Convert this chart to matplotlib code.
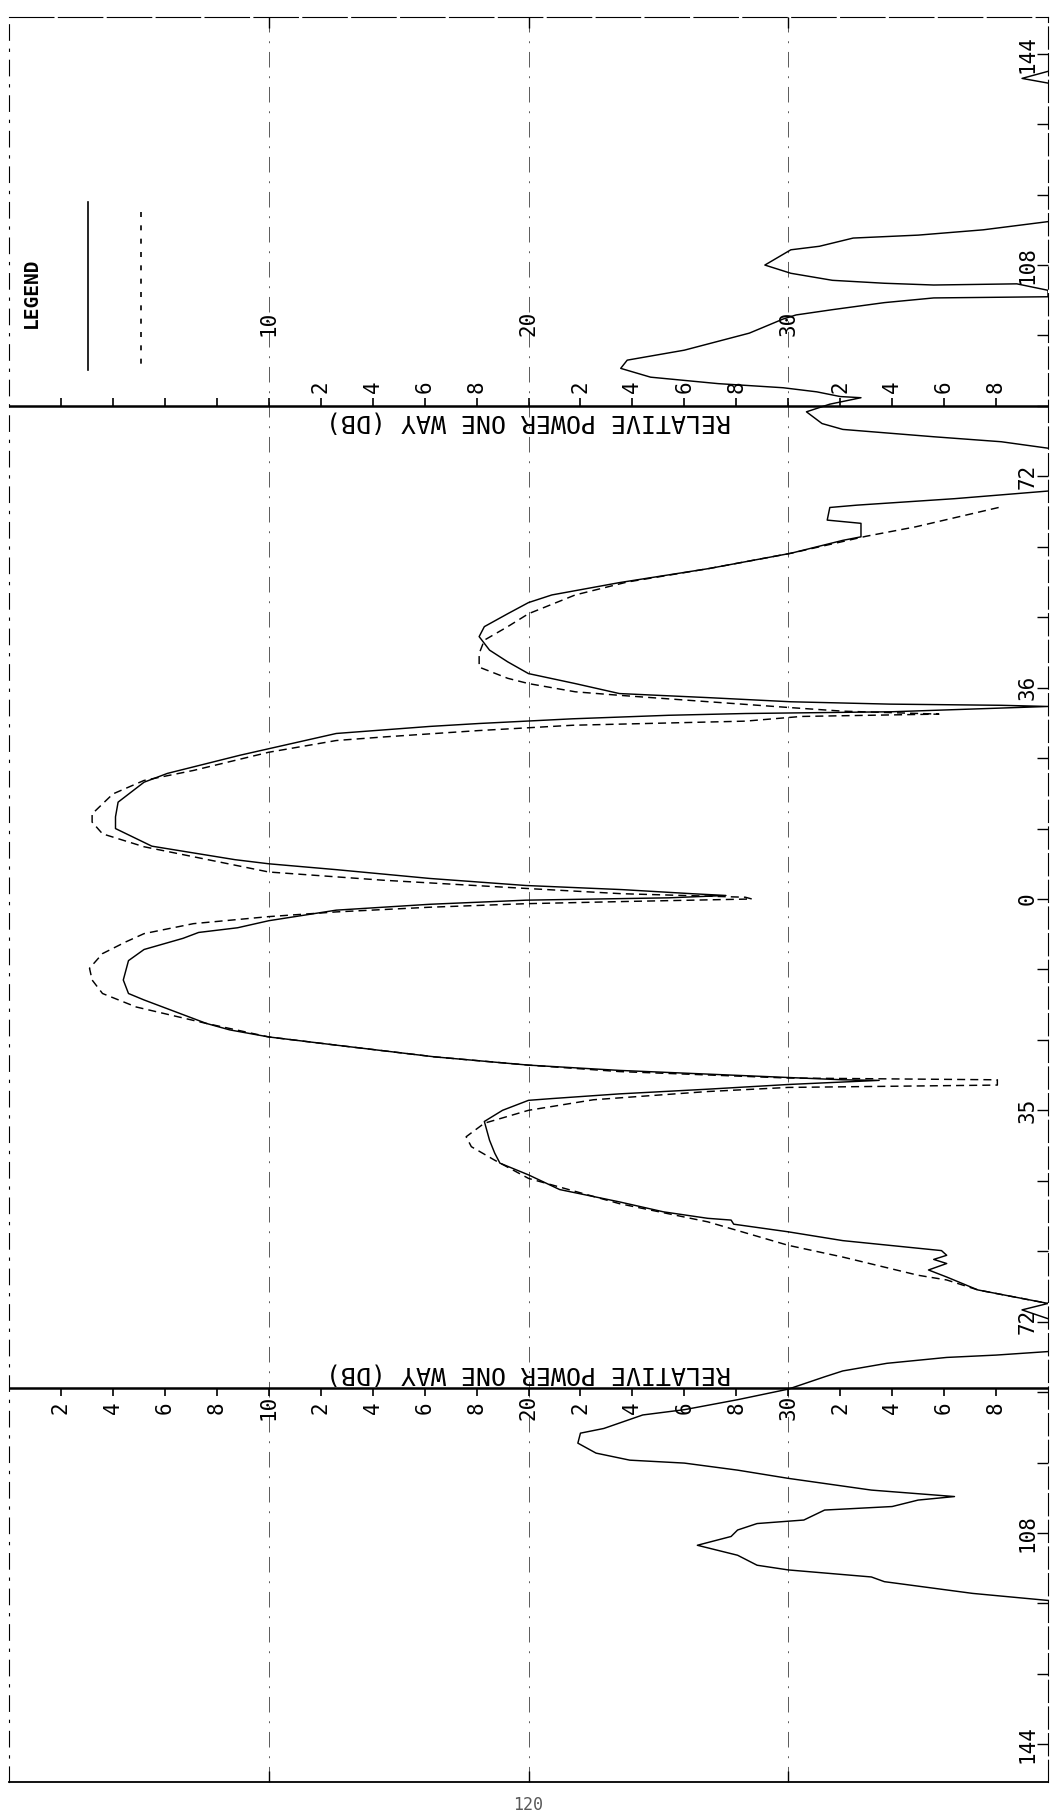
import numpy as np
import matplotlib
matplotlib.use("Agg")
import matplotlib.pyplot as plt

plt.rcParams['font.family'] = ['DejaVu Sans Mono', 'DejaVu Sans']

nan = np.nan

# solid trace: angle (deg) and relative power one way (dB)
solid_deg = [141.0, 139.8, 139.0, nan,
             115.4, 114.0, 113.1, 112.6, 111.2, 110.6, 108.0, 106.6, 105.4, 104.9, 104.6, 104.8, 103.7,
             102.6, 102.4, 101.6, 100.4, 99.5, 98.8, 96.4, 93.5, 91.8, 90.4, 88.9, 87.8, 87.1, 86.4,
             85.6, 85.4, 84.3, 83.0, 81.0, 80.0, 78.75, 77.9, 76.8, nan,
             69.5, 68.2, 67.1, 66.7, 64.55, 64.0, 61.7, 61.1, 58.9, 56.3, 53.9, 51.8, 50.5, 48.6, 46.4,
             44.7, 42.4, 40.4, 38.4, 36.7, 35.0, 34.3, 33.6, 33.2, 33.0, 32.8, 31.9,
             31.6, 31.3, 30.7, 30.3, 29.9, 29.4, 28.2, 25.6, 24.5, 22.5, 21.4, 19.9, 16.5, 14.0, 12.0,
             9.0, 6.7, 6.0, 5.0, 3.5, 2.3, 1.6, 0.9, 0.6, 0.2, -0.2, -0.9, -1.9, -3.7, -4.9, -5.7,
             -6.7, -8.6, -10.5, -13.8, -16.1, -17.2, -21.2, -22.3, -23.5, -24.9, -26.9, -28.3, -29.2,
             -30.4, -30.8, -30.9, -31.6, -32.4, -33.2, -34.0, -34.3, -36.0, -37.9, -41.1, -43.3, -45.0,
             -47.0, -49.5, -51.6, -53.3, -54.4, -54.7, -55.4, -56.7, -58.2, -59.9, -60.7, -61.4, -62.1,
             -63.2, -64.4, -66.6, -67.8, -68.9, -70.0, -71.5, nan,
             -77.1, -77.7, -78.1, -79.1, -80.4, -81.4, -83.5, -85.3, -87.0, -87.9, -90.2, -91.0, -92.7,
             -94.4, -95.6, -96.1, -97.3, -98.7, -100.7, -101.8, -102.4, -103.5, -104.1, -105.8, -106.4,
             -107.5, -108.6, -110.1, -111.8, -113.5, -114.3, -115.5, -116.3, -118.3, -119.5]
solid_db = [40.0, 39.0, 40.0, nan,
            40.0, 37.5, 35.0, 32.5, 31.2, 30.1, 29.1, 30.1, 31.7, 33.7, 35.6, 38.8, 40.0,
            40.0, 35.6, 33.7, 31.7, 30.3, 29.8, 28.5, 26.0, 23.8, 23.55, 24.7, 27.3, 29.8, 31.1,
            32.0, 32.8, 31.6, 30.7, 31.3, 32.1, 35.6, 38.2, 40.0, nan,
            40.0, 36.4, 32.65, 31.6, 31.5, 32.8, 32.8, 32.1, 30.1, 26.95, 23.5, 20.9, 20.0, 19.2, 18.3,
            18.1, 18.5, 19.2, 20.0, 21.8, 23.5, 26.95, 30.1, 33.9, 38.2, 40.0, 34.0,
            28.35, 25.4, 21.7, 19.9, 18.1, 16.2, 12.6, 10.0, 8.9, 7.1, 6.1, 5.2, 4.2, 4.1, 4.1,
            5.5, 8.7, 10.0, 12.6, 16.2, 19.9, 23.6, 26.3, 27.6, 25.4, 19.9, 16.2, 12.6, 10.0, 8.8, 7.3,
            6.7, 5.2, 4.6, 4.4, 4.6, 5.2, 7.6, 8.5, 10.0, 12.6, 16.4, 20.0, 23.5,
            30.0, 32.1, 33.5, 30.0, 26.9, 23.5, 20.9, 20.0, 19.0, 18.3, 18.5, 18.7, 18.9,
            20.0, 21.2, 23.5, 25.2, 26.9, 27.8, 27.9, 30.0, 32.1, 35.9, 36.1, 35.6, 36.1,
            35.4, 36.1, 37.3, 38.7, 40.0, 39.0, 40.0, nan,
            40.0, 38.0, 36.1, 33.8, 32.1, 31.4, 30.0, 28.05, 26.0, 24.4, 22.9, 22.0, 21.9,
            22.6, 23.9, 26.0, 28.05, 30.0, 33.2, 36.4, 35.0, 34.0, 31.4, 30.6, 28.8,
            28.05, 27.8, 26.5, 28.05, 28.8, 30.0, 33.2, 33.7, 37.1, 40.0]

# dashed trace
dash_deg = [66.7, 63.4, 61.8, 58.9, 56.3, 54.0, 51.8, 48.6, 46.4, 44.1, 41.8, 39.5, 37.6, 36.7, 35.3,
            34.7, 33.6, 32.6, 32.0, 31.5, 31.1, 30.3, 29.6, 28.7, 27.6, 27.0, 25.0, 21.9, 20.2, 17.9,
            14.5, 13.1, 11.1, 8.9, 7.2, 4.6, 3.2, 1.8, 0.9, 0.3, 0.0, -0.4, -0.8, -1.4, -2.2, -3.0,
            -4.2, -5.9, -7.3, -9.3, -11.8, -13.8, -16.1, -18.4, -21.2, -23.5, -24.9, -26.9, -28.3,
            -29.4, -30.5, -30.8, -31.7, -32.1, -32.8, -34.2, -36.0, -38.2, -40.5, -42.2, -44.5, -47.6,
            -51.9, -55.0, -59.0, -61.0, -64.1, -64.9, -66.6, -67.8, -68.9]
dash_db = [38.1, 34.9, 33.0, 30.1, 26.95, 23.8, 21.8, 20.0, 19.2, 18.3, 18.1, 18.1, 19.2, 20.0, 21.8,
           23.5, 26.95, 30.1, 32.1, 35.8, 30.5, 28.35, 21.7, 18.1, 14.4, 12.6, 10.0, 7.1, 5.2, 4.0,
           3.2, 3.2, 3.6, 5.2, 7.1, 10.0, 14.4, 19.9, 23.6, 28.35, 28.6, 24.0, 19.9, 16.2, 12.6, 10.0,
           7.1, 5.2, 4.5, 3.6, 3.1, 3.2, 3.6, 4.9, 7.6, 10.0, 12.6, 16.4, 20.0,
           23.5, 30.0, 38.05, 38.05, 30.0, 26.9, 22.5, 20.0, 18.3, 17.6, 17.8, 18.7, 20.0,
           23.5, 26.9, 30.0, 32.1, 35.0, 36.1, 37.3, 38.7, 40.0]

# scale labels
db_minor = np.arange(2, 40, 2)
lower_labels = ['2', '4', '6', '8', '10', '2', '4', '6', '8', '20',
                '2', '4', '6', '8', '30', '2', '4', '6', '8']
upper_major = [10, 20, 30]
angle_ticks = [144, 108, 72, 36, 0, -36, -72, -108, -144]
angle_labels = ['144', '108', '72', '36', '0', '35', '72', '108', '144']
axis_title = 'RELATIVE POWER ONE WAY (DB)'

UPPER_AXIS = 84.0
LOWER_AXIS = -83.3

fig = plt.figure(figsize=(10.52, 18.18), dpi=100)
ax = fig.add_axes([9 / 1052, 36 / 1818, 1039 / 1052, 1765 / 1818])
ax.set_xlim(0, 40)
ax.set_ylim(-150.43, 150.26)

# grid lines
for g in upper_major:
    ax.axvline(g, color='0.35', lw=0.7, ls=(0, (16, 9, 2, 9)), zorder=1)

# frame
ax.spines['left'].set_linestyle((0, (14, 8, 2, 8)))
ax.spines['left'].set_linewidth(0.8)
ax.spines['top'].set_linestyle((0, (40, 4)))
ax.spines['right'].set_linestyle((0, (20, 4)))
ax.spines['bottom'].set_linewidth(1.3)
ax.set_xticks(upper_major)
ax.tick_params(axis='x', direction='in', length=8, top=True, bottom=True,
               labelbottom=False, width=1)
ax.set_yticks(np.arange(-144, 145, 12))
ax.tick_params(axis='y', direction='in', length=8, left=False, right=True,
               labelleft=False, width=1)

# the two scale lines
ax.axhline(UPPER_AXIS, color='k', lw=1.8)
ax.axhline(LOWER_AXIS, color='k', lw=1.8)
ax.vlines(db_minor, UPPER_AXIS, UPPER_AXIS + 1.3, color='k', lw=1.2)
ax.vlines(db_minor, LOWER_AXIS - 1.3, LOWER_AXIS, color='k', lw=1.2)

# curves
ax.plot(solid_db, solid_deg, color='k', lw=1.05, zorder=3)
ax.plot(dash_db, dash_deg, color='k', lw=1.05, ls=(0, (5.5, 3.5)), zorder=3)

# upper scale labels
for x, lab in zip(db_minor, lower_labels):
    if x < 10:
        continue
    if lab in ('10', '20', '30'):
        ax.text(x, 98.0, lab, rotation=90, ha='center', va='center', fontsize=15)
    else:
        ax.text(x, 87.2, lab, rotation=90, ha='center', va='center', fontsize=15)
# lower scale labels
for x, lab in zip(db_minor, lower_labels):
    ax.text(x, -86.6, lab, rotation=90, ha='center', va='center', fontsize=15)

ax.text(20.0, 81.4, axis_title, rotation=180, ha='center', va='center', fontsize=18)
ax.text(20.0, -80.8, axis_title, rotation=180, ha='center', va='center', fontsize=18)

# angle labels
for a, lab in zip(angle_ticks, angle_labels):
    ax.text(39.2, a, lab, rotation=90, ha='center', va='center', fontsize=15)

# legend
ax.text(0.85, 103.2, 'LEGEND', rotation=90, ha='center', va='center',
        fontsize=14, fontweight='bold')
ax.plot([3.05, 3.05], [118.8, 90.1], color='k', lw=1.2)
ax.plot([5.07, 5.07], [117.1, 90.1], color='k', lw=1.2, ls=(0, (3, 5)))

ax.text(20.0, -154.3, '120', ha='center', va='center', fontsize=12,
        color='0.35', clip_on=False)

fig.savefig('out.png', dpi=100)
